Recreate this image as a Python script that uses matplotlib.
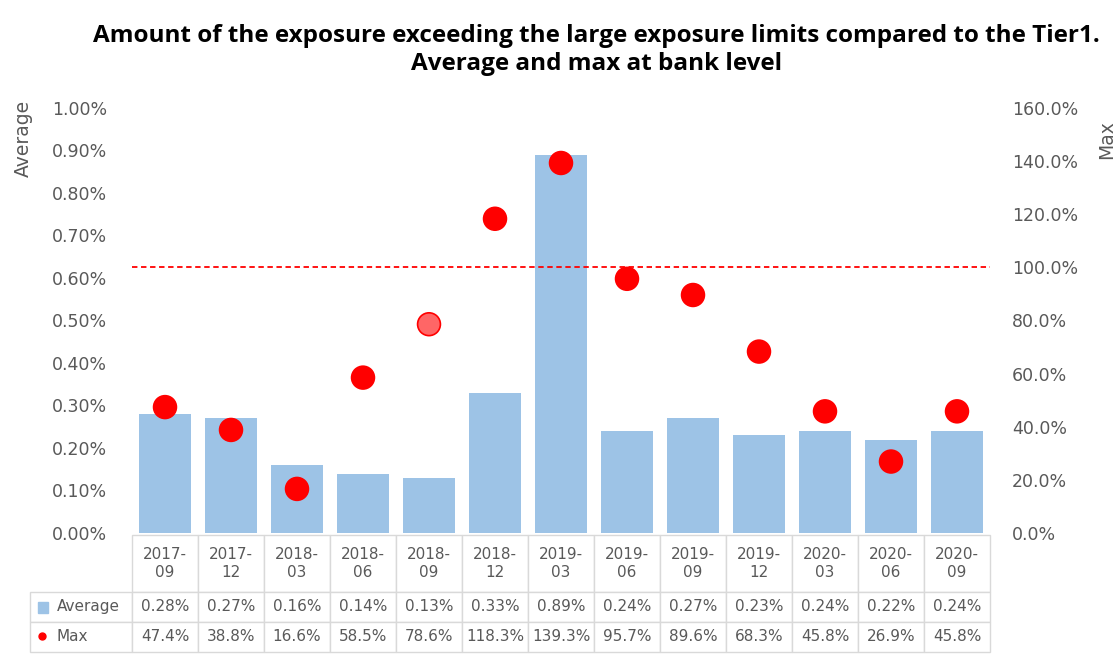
import numpy as np
import matplotlib.pyplot as plt
from matplotlib.table import Table
from matplotlib.patches import Rectangle
from matplotlib.lines import Line2D

periods = ["2017-09", "2017-12", "2018-03", "2018-06", "2018-09", "2018-12", "2019-03",
           "2019-06", "2019-09", "2019-12", "2020-03", "2020-06", "2020-09"]
average = [0.28, 0.27, 0.16, 0.14, 0.13, 0.33, 0.89, 0.24, 0.27, 0.23, 0.24, 0.22, 0.24]
max_vals = [47.4, 38.8, 16.6, 58.5, 78.6, 118.3, 139.3, 95.7, 89.6, 68.3, 45.8, 26.9, 45.8]
limit = 100.0
highlight = "2018-09"

BAR = "#9DC3E6"
GREY = "#595959"
W, H = 1116, 671

fig = plt.figure(figsize=(W / 100, H / 100), dpi=100)
ax = fig.add_axes([132 / W, 1 - 533 / H, 858 / W, 425 / H])
x = np.arange(len(periods))

ax.bar(x, average, width=0.78, color=BAR, zorder=2)
ax.set_xlim(-0.5, len(periods) - 0.5)
ax.set_ylim(0, 1.0)
ax.set_yticks(np.arange(0, 1.001, 0.1))
ax.yaxis.set_major_formatter(lambda v, p: f"{v:.2f}%")
ax.set_xticks([])
for s in ax.spines.values():
    s.set_visible(False)
ax.tick_params(axis="y", length=0, pad=18, labelsize=12.5, labelcolor=GREY)

ax2 = ax.twinx()
ax2.set_ylim(0, 160)
ax2.set_yticks(np.arange(0, 161, 20))
ax2.yaxis.set_major_formatter(lambda v, p: f"{v:.1f}%")
for s in ax2.spines.values():
    s.set_visible(False)
ax2.tick_params(axis="y", length=0, pad=16, labelsize=12.5, labelcolor=GREY)
ax2.axhline(limit, color="red", ls=(0, (3, 2)), lw=1.3, zorder=2)
faces = ["#FF6666" if p == highlight else "red" for p in periods]
ax2.scatter(x, max_vals, s=270, c=faces, edgecolors="red", linewidths=1.2, zorder=3)

# axis titles and chart title
fig.text(23 / W, 1 - 100 / H, "Average", rotation=90, ha="center", va="top",
         fontsize=13.5, color=GREY)
fig.text(1107 / W, 1 - 120 / H, "Max", rotation=90, ha="center", va="top",
         fontsize=13.5, color=GREY)
fig.text(596 / W, 1 - 36 / H,
         "Amount of the exposure exceeding the large exposure limits compared to the Tier1.",
         ha="center", va="center", fontsize=17.5, fontweight="bold", family="Open Sans")
fig.text(597 / W, 1 - 64 / H, "Average and max at bank level",
         ha="center", va="center", fontsize=17.5, fontweight="bold", family="Open Sans")

# data table under the chart
tab = Table(ax, bbox=[-102 / 858, -119 / 425, 960 / 858, 117 / 425])
for j, p in enumerate(periods):
    tab.add_cell(0, j + 1, 66, 55, text=p.replace("-", "-\n"), loc="center")
    tab.add_cell(1, j + 1, 66, 29, text=f"{average[j]:.2f}%", loc="center")
    tab.add_cell(2, j + 1, 66, 29, text=f"{max_vals[j]:.1f}%", loc="center")
for r, lab in [(1, "Average"), (2, "Max")]:
    c = tab.add_cell(r, 0, 102, 29, text=lab, loc="left")
    c.PAD = 0.26
tab.auto_set_font_size(False)
tab.set_fontsize(11)
for cell in tab.get_celld().values():
    cell.set_edgecolor("#D9D9D9")
    cell.get_text().set_color(GREY)
ax.add_table(tab)

fig.add_artist(Rectangle((38 / W, 1 - 613 / H), 10 / W, 11 / H, color=BAR,
                         transform=fig.transFigure))
fig.add_artist(Line2D([42 / W], [1 - 636 / H], marker="o", color="red", markersize=5,
                      transform=fig.transFigure))

fig.savefig("out.png", dpi=100)
